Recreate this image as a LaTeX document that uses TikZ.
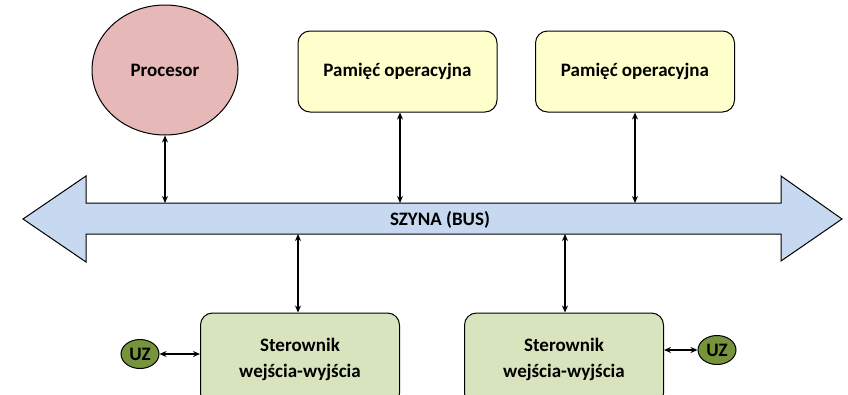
\documentclass[tikz,border=0pt]{standalone}
\usepackage{fontspec}
\setmainfont{Carlito}
\usetikzlibrary{arrows.meta,shapes.geometric}
\definecolor{procfill}{HTML}{E6B9B8}
\definecolor{memfill}{HTML}{FFFFCC}
\definecolor{busfill}{HTML}{C6D9F1}
\definecolor{iofill}{HTML}{D7E4BD}
\definecolor{uzfill}{HTML}{77933C}
\tikzset{
  box/.style={draw=black, line width=1pt, rounded corners=12pt, minimum width=199pt, minimum height=81pt, align=center, font=\bfseries\fontsize{19}{26}\selectfont},
  uz/.style={draw=black, line width=1pt, fill=uzfill, ellipse, minimum width=38pt, minimum height=29pt, inner sep=0pt, font=\bfseries\fontsize{19}{22}\selectfont},
  conn/.style={line width=1.2pt, {Stealth[length=7pt,width=6pt]}-{Stealth[length=7pt,width=6pt]}},
}
\begin{document}
\begin{tikzpicture}[x=1pt,y=-1pt]
\clip (0,0) rectangle (848,394);
\useasboundingbox (0,0) rectangle (848,394);
% bus arrow
\draw[fill=busfill, line width=1pt]
  (23,219) -- (86,176) -- (86,203) -- (781,203) -- (781,176) -- (842,219)
  -- (781,261) -- (781,234) -- (86,234) -- (86,262) -- cycle;
\node[font=\bfseries\fontsize{19}{22}\selectfont] (bus) at (440,220) {SZYNA (BUS)};
% top
\node[draw=black, line width=1pt, fill=procfill, ellipse, minimum width=146pt, minimum height=130pt, font=\bfseries\fontsize{19}{22}\selectfont] (proc) at (165,70) {Procesor};
\node[box, fill=memfill] (mem1) at (397.5,71.5) {Pamięć operacyjna};
\node[box, fill=memfill] (mem2) at (635,71.5) {Pamięć operacyjna};
% bottom
\node[box, fill=iofill, minimum height=92pt] (io1) at (300,359) {Sterownik\\wejścia-wyjścia};
\node[box, fill=iofill, minimum height=92pt] (io2) at (564,359) {Sterownik\\wejścia-wyjścia};
\node[uz] (uz1) at (140,354) {UZ};
\node[uz] (uz2) at (717,350) {UZ};
% bus anchor coordinates
\coordinate (b1) at (165,203);
\coordinate (b2) at (400,203);
\coordinate (b3) at (635,203);
\coordinate (b4) at (298,234);
\coordinate (b5) at (565,234);
\draw[conn] (proc.south) -- (b1);
\draw[conn] (mem1.south -| b2) -- (b2);
\draw[conn] (mem2.south -| b3) -- (b3);
\draw[conn] (b4) -- (io1.north -| b4);
\draw[conn] (b5) -- (io2.north -| b5);
\draw[conn] (uz1.east) -- (uz1.east -| io1.west);
\draw[conn] (io2.east |- uz2.west) -- (uz2.west);
\end{tikzpicture}
\end{document}
